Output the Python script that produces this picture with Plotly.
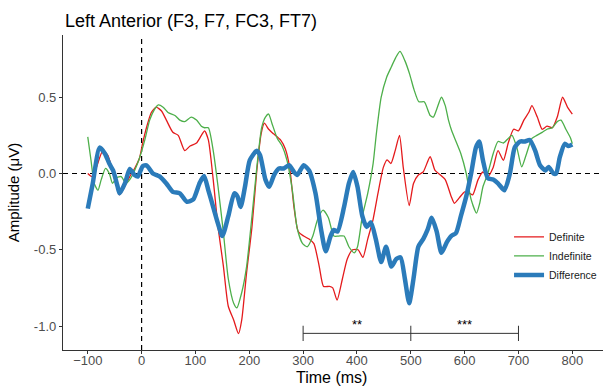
import plotly.graph_objects as go

# ---------------- data ----------------
diff_t = [-100, -91, -78, -68, -60, -53, -45, -41, -31, -22, -13, -7, 2, 9, 21, 34, 46, 58, 71, 84, 96,
          108, 116, 124, 133, 142, 150, 161, 172, 178, 184, 192, 201, 214, 220, 230, 237, 246, 255, 264,
          274, 283, 289, 301, 311, 323, 333, 342, 351, 357, 364, 376, 385, 393, 401, 410, 418, 426, 435,
          445, 454, 464, 473, 481, 489, 497, 505, 514, 523, 531, 539, 548, 557, 567, 575, 584, 593, 603,
          612, 621, 627, 634, 643, 653, 662, 674, 684, 693, 703, 712, 721, 731, 740, 750, 756, 765, 770,
          777, 786, 793, 800]
diff_v = [-0.23, -0.07, 0.17, 0.13, 0.065, 0.02, -0.08, -0.13, -0.065, 0.03, -0.01, -0.02, 0.048, 0.054,
          0.0, -0.02, -0.065, -0.12, -0.13, -0.185, -0.17, -0.06, -0.017, -0.11, -0.22, -0.33, -0.41,
          -0.28, -0.13, -0.15, -0.22, -0.087, 0.087, 0.15, 0.12, -0.04, -0.087, -0.01, 0.033, 0.033,
          0.054, 0.01, -0.01, 0.054, 0.02, -0.13, -0.36, -0.51, -0.41, -0.37, -0.38, -0.22, -0.065,
          0.01, -0.087, -0.28, -0.35, -0.32, -0.43, -0.58, -0.48, -0.61, -0.56, -0.55, -0.69, -0.85,
          -0.69, -0.48, -0.43, -0.37, -0.29, -0.38, -0.52, -0.45, -0.41, -0.39, -0.28, -0.15, 0.0,
          0.17, 0.21, 0.087, -0.03, -0.04, -0.065, -0.11, 0.0, 0.17, 0.21, 0.21, 0.22, 0.15, 0.054,
          0.02, 0.043, 0.0, 0.0, 0.11, 0.195, 0.18, 0.19]

def_t = [-100, -92, -84, -72, -63, -54, -41, -32, -22, -13, -4, 2, 9, 18, 27, 37, 46, 58, 68, 80, 90,
         102, 111, 117, 124, 133, 142, 152, 161, 171, 180, 186, 195, 205, 214, 222, 228, 236, 245, 258,
         267, 275, 283, 291, 301, 311, 320, 330, 338, 349, 355, 363, 373, 382, 392, 402, 411, 420, 430,
         439, 449, 456, 463, 471, 479, 486, 497, 505, 514, 523, 536, 545, 555, 564, 575, 581, 590, 600,
         609, 615, 625, 634, 643, 653, 662, 672, 681, 691, 700, 710, 719, 725, 735, 744, 753, 763, 772,
         782, 791, 800]
def_v = [0.0, -0.02, 0.04, 0.15, 0.12, 0.02, -0.14, -0.087, -0.02, 0.033, 0.10, 0.2, 0.3, 0.40, 0.435,
         0.41, 0.35, 0.27, 0.25, 0.15, 0.18, 0.20, 0.25, 0.28, 0.22, -0.04, -0.35, -0.61, -0.87, -0.96,
         -1.05, -0.96, -0.65, -0.35, 0.02, 0.26, 0.33, 0.29, 0.26, 0.22, 0.16, 0.04, -0.22, -0.38, -0.41,
         -0.43, -0.46, -0.61, -0.74, -0.74, -0.75, -0.83, -0.69, -0.56, -0.50, -0.50, -0.55, -0.43,
         -0.30, -0.13, 0.04, 0.09, 0.065, 0.15, 0.25, 0.04, -0.21, -0.065, -0.01, 0.01, 0.11, 0.02,
         -0.01, -0.04, -0.15, -0.195, -0.16, -0.12, -0.13, -0.14, -0.04, 0.01, -0.02, 0.04, 0.15, 0.087,
         0.20, 0.29, 0.28, 0.35, 0.40, 0.445, 0.37, 0.29, 0.31, 0.30, 0.37, 0.50, 0.435, 0.39]

ind_t = [-100, -94, -88, -81, -75, -67, -60, -54, -47, -38, -29, -22, -13, -4, 6, 15, 24, 31, 40, 49, 62,
         71, 80, 92, 102, 111, 117, 124, 133, 142, 152, 161, 171, 177, 186, 195, 205, 214, 223, 230, 236,
         242, 252, 261, 270, 280, 289, 299, 308, 318, 327, 337, 347, 357, 366, 376, 385, 395, 401, 410,
         420, 430, 436, 445, 455, 464, 472, 480, 489, 498, 506, 515, 525, 536, 542, 548, 557, 564, 570,
         576, 584, 593, 603, 612, 622, 628, 634, 643, 653, 662, 672, 681, 688, 697, 706, 715, 725, 734,
         744, 753, 763, 772, 779, 788, 797, 800]
ind_v = [0.24, 0.087, -0.065, -0.11, -0.04, 0.033, 0.0, -0.065, -0.03, -0.02, -0.065, -0.04, 0.02, 0.10,
         0.22, 0.35, 0.42, 0.45, 0.435, 0.40, 0.38, 0.35, 0.34, 0.37, 0.35, 0.31, 0.30, 0.30, 0.15,
         -0.087, -0.39, -0.69, -0.85, -0.88, -0.78, -0.61, -0.28, 0.04, 0.30, 0.37, 0.39, 0.33, 0.23,
         0.18, 0.087, -0.11, -0.36, -0.46, -0.48, -0.41, -0.30, -0.24, -0.29, -0.41, -0.41, -0.41, -0.48,
         -0.52, -0.48, -0.28, -0.13, 0.065, 0.26, 0.50, 0.63, 0.70, 0.76, 0.80, 0.74, 0.65, 0.55, 0.47,
         0.47, 0.38, 0.37, 0.42, 0.50, 0.445, 0.35, 0.28, 0.21, 0.13, 0.0, -0.17, -0.26, -0.195, -0.087,
         0.0, 0.13, 0.21, 0.20, 0.23, 0.25, 0.17, 0.043, 0.13, 0.23, 0.25, 0.27, 0.29, 0.30, 0.34, 0.35,
         0.29, 0.23, 0.195]

x_ticks = [-100, 0, 100, 200, 300, 400, 500, 600, 700, 800]
y_ticks = [-1.0, -0.5, 0.0, 0.5]
y_tick_labels = ["-1.0", "-0.5", "0.0", "0.5"]

sig_windows = [300, 500, 700]
sig_labels = ["**", "***"]

# ---------------- figure ----------------
FONT = "Liberation Sans, Arial, sans-serif"
RED, GREEN, BLUE = "#E41A1C", "#4DAF4A", "#2B7BBA"
SIG_Y = -1.048
SIG_TICK = 0.05

fig = go.Figure()
fig.add_trace(go.Scatter(x=def_t, y=def_v, mode="lines", name="Definite",
                         line=dict(color=RED, width=1.3, shape="spline", smoothing=0.6)))
fig.add_trace(go.Scatter(x=ind_t, y=ind_v, mode="lines", name="Indefinite",
                         line=dict(color=GREEN, width=1.3, shape="spline", smoothing=0.6)))
fig.add_trace(go.Scatter(x=diff_t, y=diff_v, mode="lines", name="Difference",
                         line=dict(color=BLUE, width=4.5, shape="spline", smoothing=0.6)))

shapes = [
    dict(type="line", xref="paper", yref="y", x0=0, x1=1, y0=0, y1=0,
         line=dict(color="black", width=1.2, dash="5px,4px"), layer="below"),
    dict(type="line", xref="x", yref="paper", x0=0, x1=0, y0=0, y1=1,
         line=dict(color="black", width=1.2, dash="5px,4px"), layer="below"),
    dict(type="line", xref="x", yref="y", x0=sig_windows[0], x1=sig_windows[-1], y0=SIG_Y, y1=SIG_Y,
         line=dict(color="#333333", width=1)),
]
for sx in sig_windows:
    shapes.append(dict(type="line", xref="x", yref="y", x0=sx, x1=sx,
                       y0=SIG_Y - SIG_TICK, y1=SIG_Y + SIG_TICK,
                       line=dict(color="#333333", width=1)))

annotations = []
for i, lab in enumerate(sig_labels):
    annotations.append(dict(x=(sig_windows[i] + sig_windows[i + 1]) / 2, y=SIG_Y + 0.06,
                            xref="x", yref="y", text=lab, showarrow=False,
                            font=dict(family=FONT, size=13, color="black"), yanchor="middle"))
# x-axis title (placed as an annotation so it does not collide with tick labels)
annotations.append(dict(text="Time (ms)", x=0.497, y=-27 / 315, xref="paper", yref="paper",
                        xanchor="center", yanchor="middle", showarrow=False,
                        font=dict(family=FONT, size=16, color="black")))

fig.update_layout(
    width=606, height=387,
    margin=dict(l=63, r=3, t=35, b=37),
    paper_bgcolor="white", plot_bgcolor="white",
    font=dict(family=FONT, color="black"),
    title=dict(text="Left Anterior (F3, F7, FC3, FT7)", x=65 / 606, xanchor="left",
               y=1 - 21 / 387, yanchor="middle", xref="container", yref="container",
               font=dict(family=FONT, size=18, color="black")),
    showlegend=True,
    legend=dict(x=0.826, y=0.405, xanchor="left", yanchor="top", bgcolor="rgba(0,0,0,0)",
                font=dict(family=FONT, size=10.5, color="#1a1a1a"), itemwidth=30,
                tracegroupgap=0),
    shapes=shapes,
    annotations=annotations,
)
fig.update_xaxes(range=[-146, 857], tickvals=x_ticks, showgrid=False, zeroline=False,
                 automargin=False,
                 showline=True, linecolor="#333333", linewidth=1.3,
                 ticks="outside", ticklen=3, tickcolor="#333333", tickwidth=1,
                 ticklabelstandoff=-5,
                 tickfont=dict(family=FONT, size=13, color="#4D4D4D"))
fig.update_yaxes(range=[-1.157, 0.908], tickvals=y_ticks, ticktext=y_tick_labels,
                 showgrid=False, zeroline=False,
                 automargin=False,
                 showline=True, linecolor="#333333", linewidth=1.3,
                 ticks="outside", ticklen=3, tickcolor="#333333", tickwidth=1,
                 tickfont=dict(family=FONT, size=13, color="#4D4D4D"),
                 title=dict(text="Amplitude (μV)", font=dict(family=FONT, size=15, color="black"),
                            standoff=10))

fig.write_html("out.html", post_script="document.body.style.margin='0';",
               config={"displayModeBar": False})
